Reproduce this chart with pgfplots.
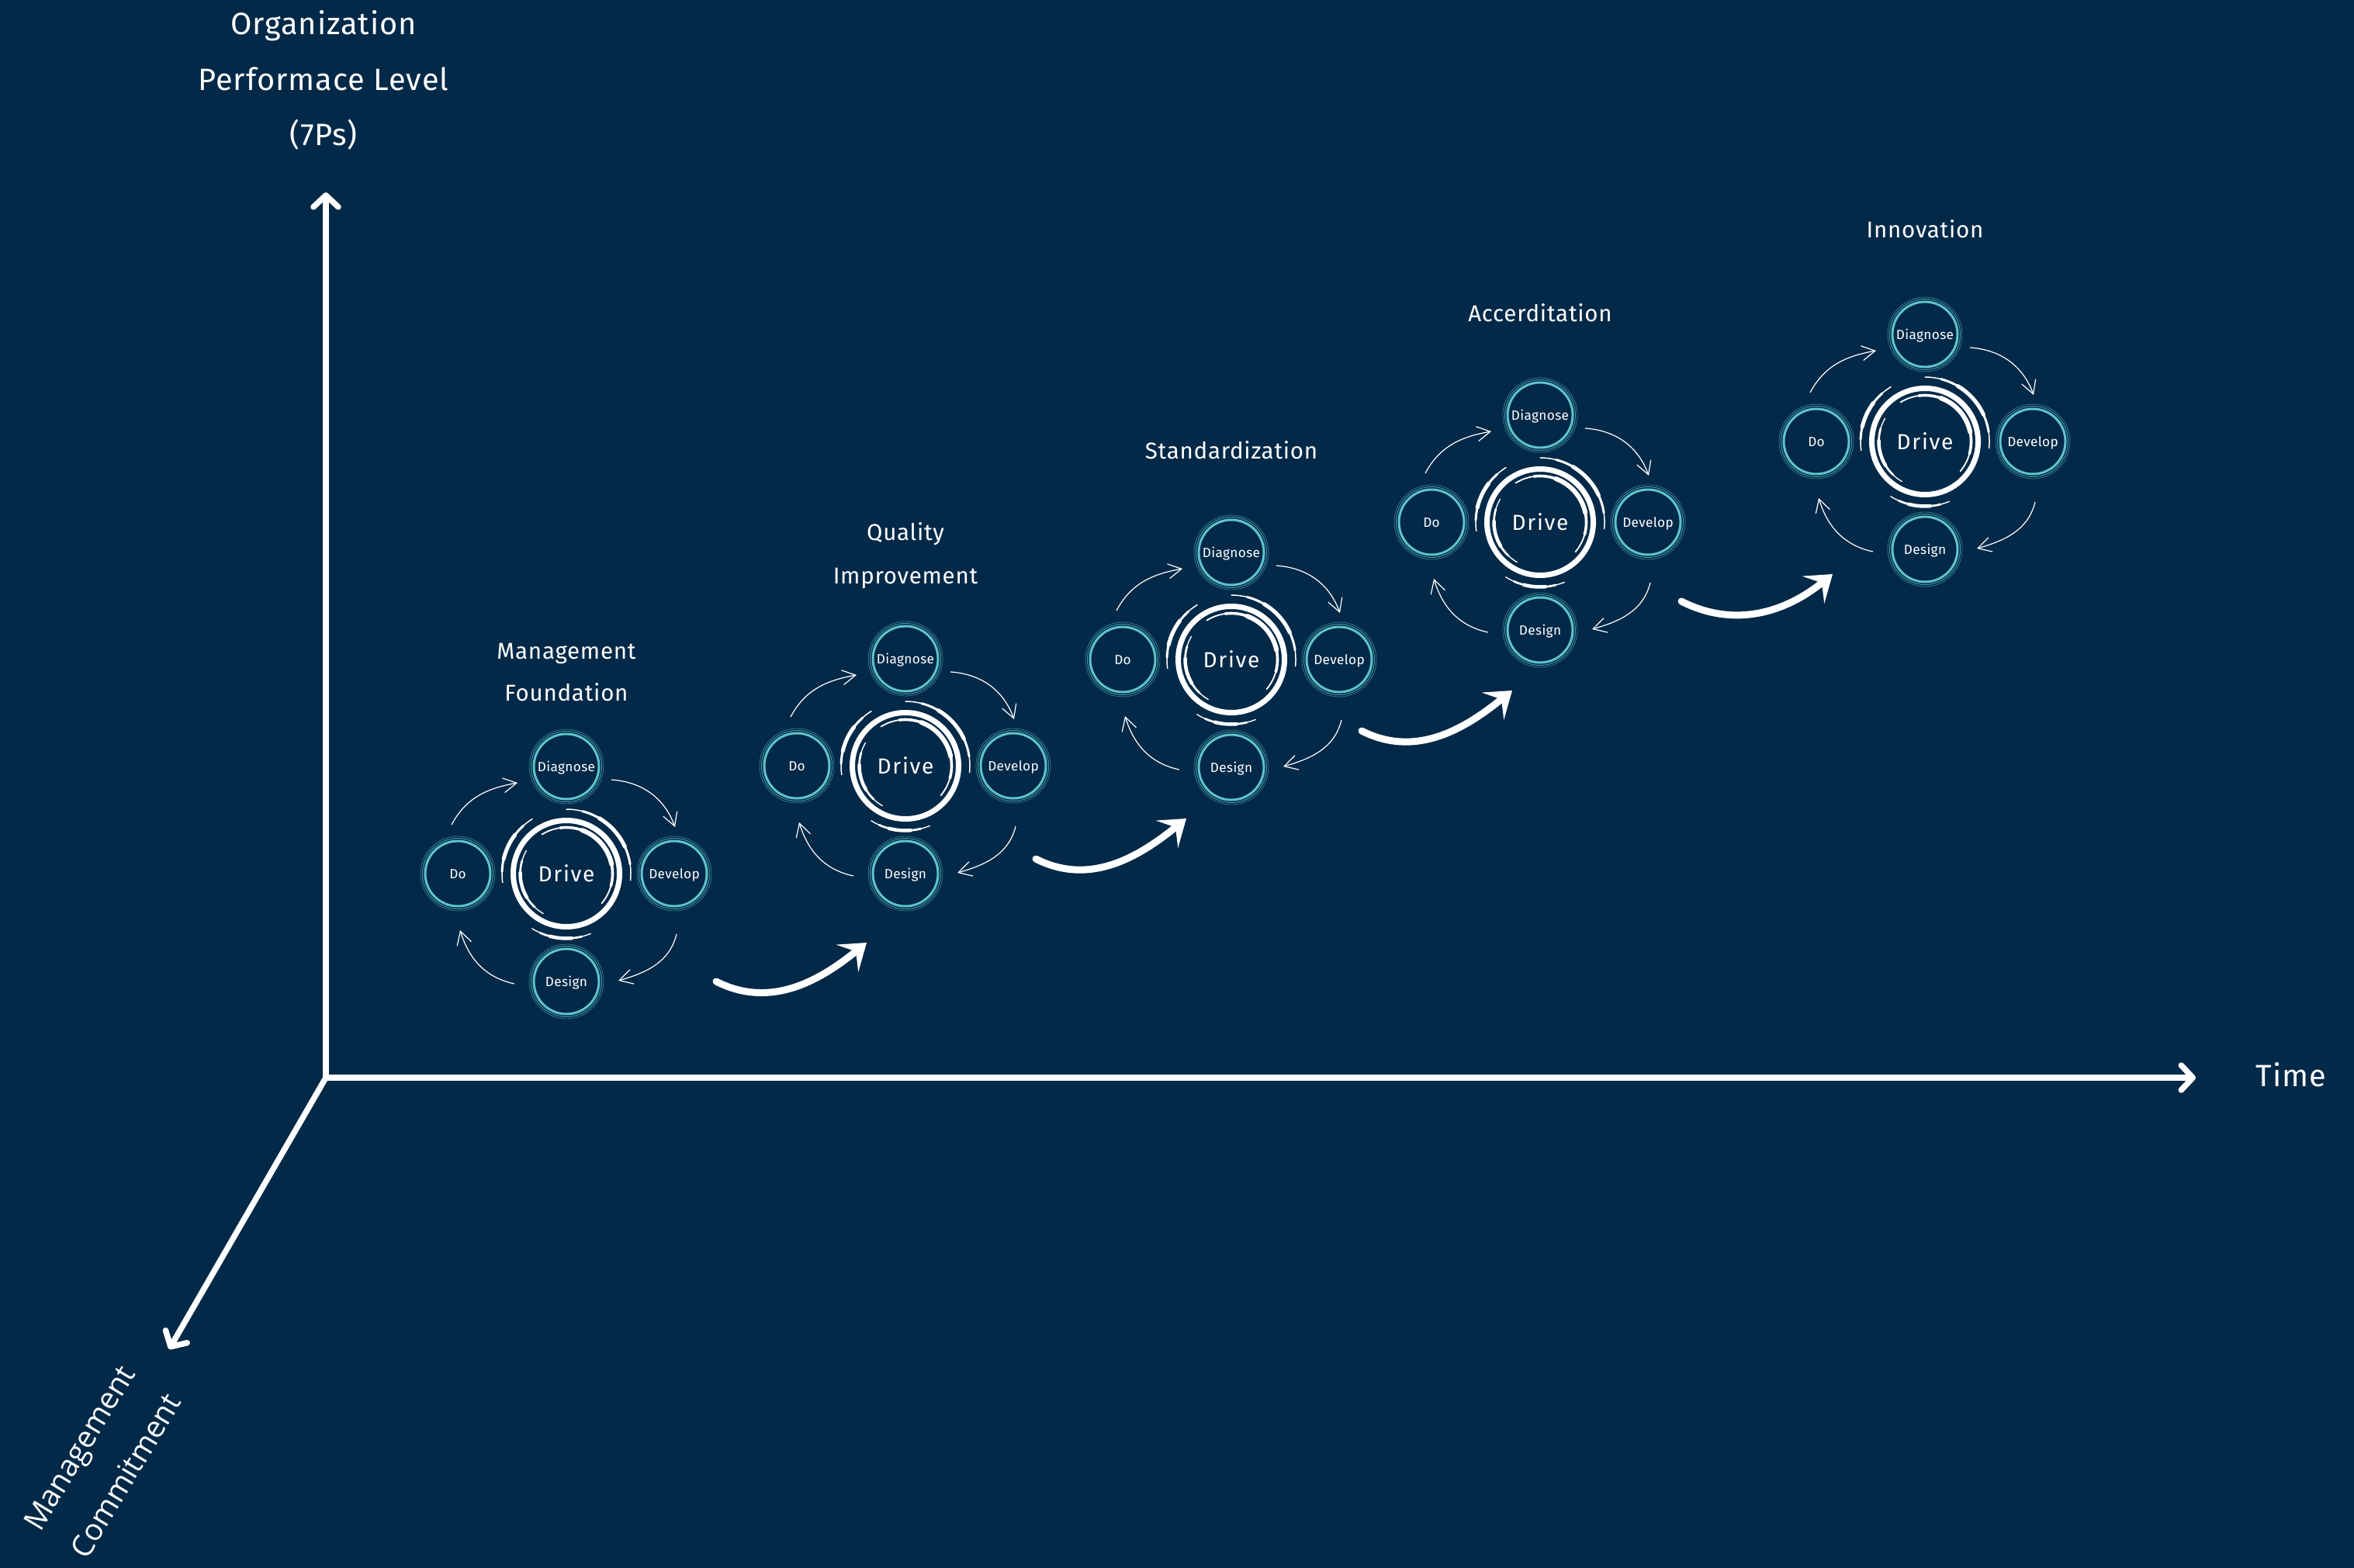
\documentclass[border=0pt]{standalone}
\usepackage{pgfplots}
\pgfplotsset{compat=1.18}
\usetikzlibrary{arrows.meta}
\usepackage{fontspec}
\setmainfont{Fira Sans}[LetterSpace=2.5]
\newfontfamily\ofont{Open Sans}
\definecolor{bg}{RGB}{3,41,72}
\definecolor{tl}{RGB}{95,196,202}
\newcommand\labfont{\fontsize{11.3}{13}\selectfont}
\newcommand\titfont{\fontsize{8.4}{10}\selectfont}
\newcommand\drvfont{\fontsize{8}{9.6}\selectfont\addfontfeatures{LetterSpace=6}}
\newcommand\satfont{\fontsize{4.9}{6}\selectfont\addfontfeatures{LetterSpace=2}}
\tikzset{sarr/.style={white, line width=0.012cm, -{Straight Barb[length=0.17cm,width=0.19cm]}}}
\newcommand\sat[3]{%
  \draw[tl, line width=0.03cm] (#1,#2) circle[radius=0.42cm];
  \draw[tl!70!bg, line width=0.01cm] (#1,#2) circle[radius=0.455cm];
  \draw[tl!50!bg, line width=0.008cm] (#1,#2) circle[radius=0.48cm];
  \node[white, anchor=base, font=\satfont, inner sep=0pt] at (#1,#2-0.062cm) {#3};
}
\newcommand\swoosh[4]{% radius, start, end, max width
  \draw[white, line width=0.3*#4, line cap=round] (#2:#1) arc[start angle=#2,end angle=#3,radius=#1];
  \draw[white, line width=0.6*#4, line cap=round] ({#2+0.15*(#3-#2)}:#1) arc[start angle={#2+0.15*(#3-#2)},end angle={#3-0.15*(#3-#2)},radius=#1];
  \draw[white, line width=#4, line cap=round] ({#2+0.32*(#3-#2)}:#1) arc[start angle={#2+0.32*(#3-#2)},end angle={#3-0.32*(#3-#2)},radius=#1];
}
\newcommand\cluster[2]{%
\begin{scope}[shift={(axis cs:#1,#2)}]
  \draw[white, line width=0.07cm] (0cm,0cm) circle[radius=0.685cm];
  % inner swooshes
  \swoosh{0.595cm}{122}{-40}{0.06cm}
  \swoosh{0.595cm}{150}{240}{0.045cm}
  % outer swooshes
  \swoosh{0.83cm}{90}{-6}{0.05cm}
  \swoosh{0.83cm}{122}{188}{0.05cm}
  \swoosh{0.835cm}{238}{292}{0.045cm}
  \node[white, font=\drvfont, inner sep=0pt] at (0cm,0cm) {Drive};
  % satellites
  \sat{0cm}{1.38cm}{Diagnose}
  \sat{1.39cm}{0cm}{Develop}
  \sat{0cm}{-1.39cm}{Design}
  \sat{-1.40cm}{0cm}{Do}
  % cycle arrows
  \draw[sarr] (-1.48cm,0.63cm) to[out=62,in=190] (-0.63cm,1.17cm);
  \draw[sarr] (0.58cm,1.21cm) to[out=-4,in=110] (1.40cm,0.60cm);
  \draw[sarr] (1.42cm,-0.78cm) to[out=-104,in=16] (0.67cm,-1.38cm);
  \draw[sarr] (-0.67cm,-1.42cm) to[out=168,in=-73] (-1.37cm,-0.73cm);
\end{scope}}
\begin{document}
\begin{tikzpicture}
\begin{axis}[width=30.34cm,height=20.21cm,scale only axis,
  xmin=0,xmax=3034,ymin=0,ymax=2021,y dir=reverse,hide axis,clip=false]
\fill[bg] (axis cs:0,0) rectangle (axis cs:3034,2021);
% axes
\addplot[white, line width=0.075cm, line cap=round, -{Straight Barb[length=0.15cm,width=0.32cm,round]}] coordinates {(420,1389) (420,248)};
\addplot[white, line width=0.075cm, line cap=round, -{Straight Barb[length=0.15cm,width=0.32cm,round]}] coordinates {(420,1389) (2830,1389)};
\addplot[white, line width=0.075cm, line cap=round, -{Straight Barb[length=0.15cm,width=0.32cm,round]}] coordinates {(420,1389) (218,1739)};
% axis labels
\node[white, anchor=base, font=\labfont] at (axis cs:417,45) {Organization};
\node[white, anchor=base, font=\labfont] at (axis cs:417,117) {Performace Level};
\node[white, anchor=base, font=\labfont] at (axis cs:417,188) {(7Ps)};
\node[white, anchor=base, font=\labfont] at (axis cs:2953,1400) {Time};
\node[white, rotate=59, align=center, font=\ofont\fontsize{11}{19.9}\selectfont] at (axis cs:132,1884) {Management\\Commitment};
% clusters
\cluster{730}{1126}
\cluster{1167}{987}
\cluster{1587}{850}
\cluster{1985}{673}
\cluster{2481}{569}
% titles
\node[white, anchor=base, font=\titfont] at (axis cs:730,849) {Management};
\node[white, anchor=base, font=\titfont] at (axis cs:730,903) {Foundation};
\node[white, anchor=base, font=\titfont] at (axis cs:1167,696) {Quality};
\node[white, anchor=base, font=\titfont] at (axis cs:1167,752) {Improvement};
\node[white, anchor=base, font=\titfont] at (axis cs:1587,591) {Standardization};
\node[white, anchor=base, font=\titfont] at (axis cs:1985,415) {Accerditation};
\node[white, anchor=base, font=\titfont] at (axis cs:2481,307) {Innovation};
% progress arrows
\draw[white, line width=0.09cm, line cap=round, -{Stealth[length=0.32cm,width=0.45cm,inset=0.14cm]}] (axis cs:923,1265) to[out=-27,in=-141] (axis cs:1117,1215);
\draw[white, line width=0.09cm, line cap=round, -{Stealth[length=0.32cm,width=0.45cm,inset=0.14cm]}] (axis cs:1335,1107) to[out=-27,in=-141] (axis cs:1529,1055);
\draw[white, line width=0.09cm, line cap=round, -{Stealth[length=0.32cm,width=0.45cm,inset=0.14cm]}] (axis cs:1755,942) to[out=-27,in=-141] (axis cs:1949,890);
\draw[white, line width=0.09cm, line cap=round, -{Stealth[length=0.32cm,width=0.45cm,inset=0.14cm]}] (axis cs:2167,775) to[out=-27,in=-141] (axis cs:2362,740);
\end{axis}
\pgfresetboundingbox
\path (current axis.south west) rectangle (current axis.north east);
\end{tikzpicture}
\end{document}
